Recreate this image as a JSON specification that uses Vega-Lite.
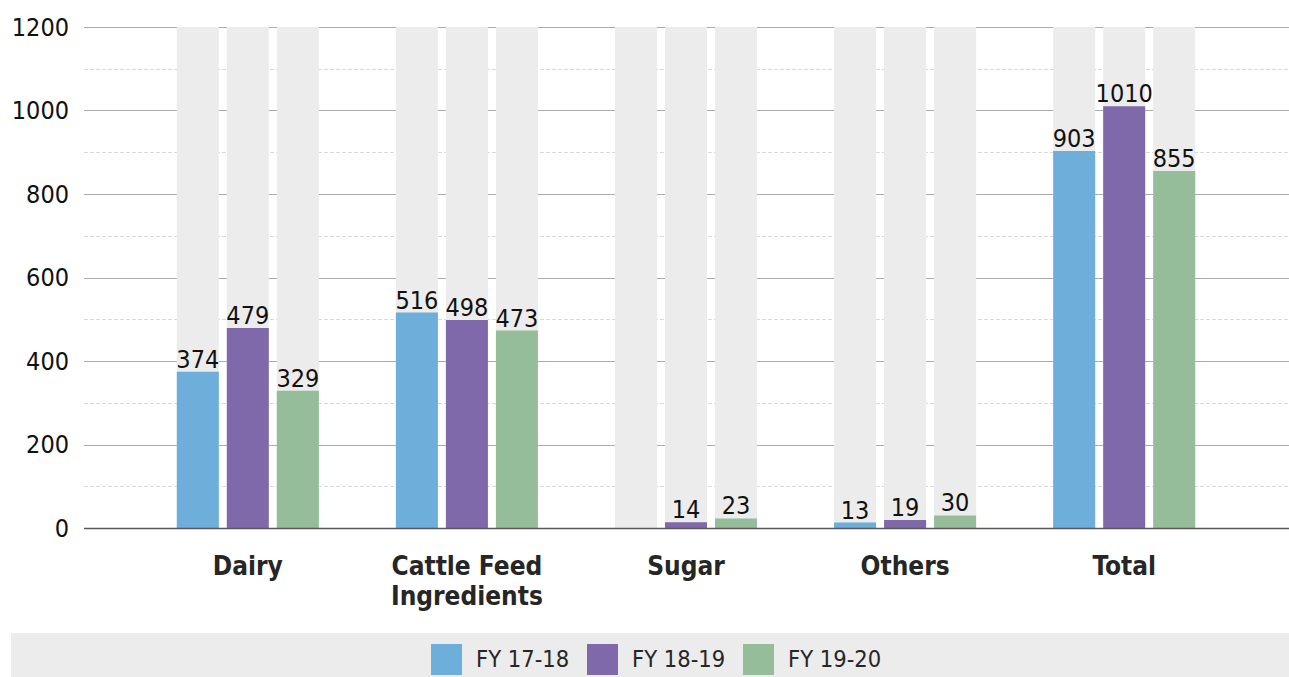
{
  "$schema": "https://vega.github.io/schema/vega-lite/v6.json",
  "padding": {"left": 11, "top": 15, "right": 0, "bottom": 0},
  "autosize": {"type": "pad"},
  "config": {"font": "DejaVu Sans Condensed", "view": {"stroke": null}},
  "datasets": {
    "main": [
      {"cat": "Dairy", "series": "FY 17-18", "value": 374},
      {"cat": "Dairy", "series": "FY 18-19", "value": 479},
      {"cat": "Dairy", "series": "FY 19-20", "value": 329},
      {"cat": "Cattle Feed Ingredients", "series": "FY 17-18", "value": 516},
      {"cat": "Cattle Feed Ingredients", "series": "FY 18-19", "value": 498},
      {"cat": "Cattle Feed Ingredients", "series": "FY 19-20", "value": 473},
      {"cat": "Sugar", "series": "FY 17-18", "value": null},
      {"cat": "Sugar", "series": "FY 18-19", "value": 14},
      {"cat": "Sugar", "series": "FY 19-20", "value": 23},
      {"cat": "Others", "series": "FY 17-18", "value": 13},
      {"cat": "Others", "series": "FY 18-19", "value": 19},
      {"cat": "Others", "series": "FY 19-20", "value": 30},
      {"cat": "Total", "series": "FY 17-18", "value": 903},
      {"cat": "Total", "series": "FY 18-19", "value": 1010},
      {"cat": "Total", "series": "FY 19-20", "value": 855}
    ],
    "series": [
      {"series": "FY 17-18"},
      {"series": "FY 18-19"},
      {"series": "FY 19-20"}
    ]
  },
  "center": true,
  "spacing": 24,
  "vconcat": [
    {
      "width": 1205,
      "height": 501,
      "data": {"name": "main"},
      "encoding": {
        "x": {
          "field": "cat", "type": "nominal", "sort": null,
          "scale": {"paddingInner": 0, "paddingOuter": 0.25},
          "axis": {
            "title": null, "labelAngle": 0, "ticks": false, "zindex": 1,
            "domainColor": "#595959", "domainWidth": 1.5,
            "labelFontSize": 26, "labelFontWeight": "bold", "labelColor": "#262626",
            "labelPadding": 25, "labelBaseline": "top", "labelLineHeight": 30,
            "labelExpr": "datum.label == 'Cattle Feed Ingredients' ? ['Cattle Feed', 'Ingredients'] : datum.label"
          }
        },
        "xOffset": {"field": "series", "type": "nominal", "scale": {"paddingInner": 0.16, "paddingOuter": 0.77}}
      },
      "layer": [
        {
          "mark": {"type": "bar", "color": "#ebeceb"},
          "encoding": {
            "y": {
              "datum": 1200, "type": "quantitative",
              "scale": {"domain": [0, 1200], "nice": false},
              "axis": {
                "title": null, "format": "d", "grid": true,
                "values": [0, 100, 200, 300, 400, 500, 600, 700, 800, 900, 1000, 1100, 1200],
                "labelExpr": "datum.value % 200 == 0 ? datum.label : ''",
                "domain": false, "ticks": false,
                "labelFontSize": 25, "labelColor": "#111111", "labelPadding": 15,
                "gridColor": {"condition": {"test": "datum.value % 200 == 0", "value": "#ababab"}, "value": "#d9d9d9"},
                "gridDash": {"condition": {"test": "datum.value % 200 == 0", "value": [1, 0]}, "value": [4, 2]},
                "gridWidth": 1
              }
            },
            "y2": {"datum": 0}
          }
        },
        {
          "mark": "bar",
          "encoding": {
            "y": {"field": "value", "type": "quantitative"},
            "color": {
              "field": "series", "type": "nominal",
              "scale": {"domain": ["FY 17-18", "FY 18-19", "FY 19-20"], "range": ["#6daedb", "#8069aa", "#95bd9a"]},
              "legend": {
                "orient": "none", "legendX": 420, "legendY": 617, "direction": "horizontal",
                "title": null, "symbolType": "square", "symbolSize": 961, "symbolStrokeWidth": 0,
                "symbolOpacity": 1, "labelFontSize": 23.5, "labelColor": "#262626",
                "labelOffset": 14, "columnPadding": 17, "padding": 0, "zindex": 5
              }
            }
          }
        },
        {
          "mark": {"type": "text", "baseline": "alphabetic", "dy": -4, "fontSize": 25, "color": "#111111"},
          "encoding": {
            "y": {"field": "value", "type": "quantitative"},
            "text": {"field": "value", "type": "quantitative"}
          }
        }
      ]
    },
    {
      "width": 1350,
      "height": 55,
      "view": {"fill": "#ebeceb", "stroke": null},
      "data": {"name": "series"},
      "mark": {"type": "point", "opacity": 0},
      "encoding": {}
    }
  ]
}
